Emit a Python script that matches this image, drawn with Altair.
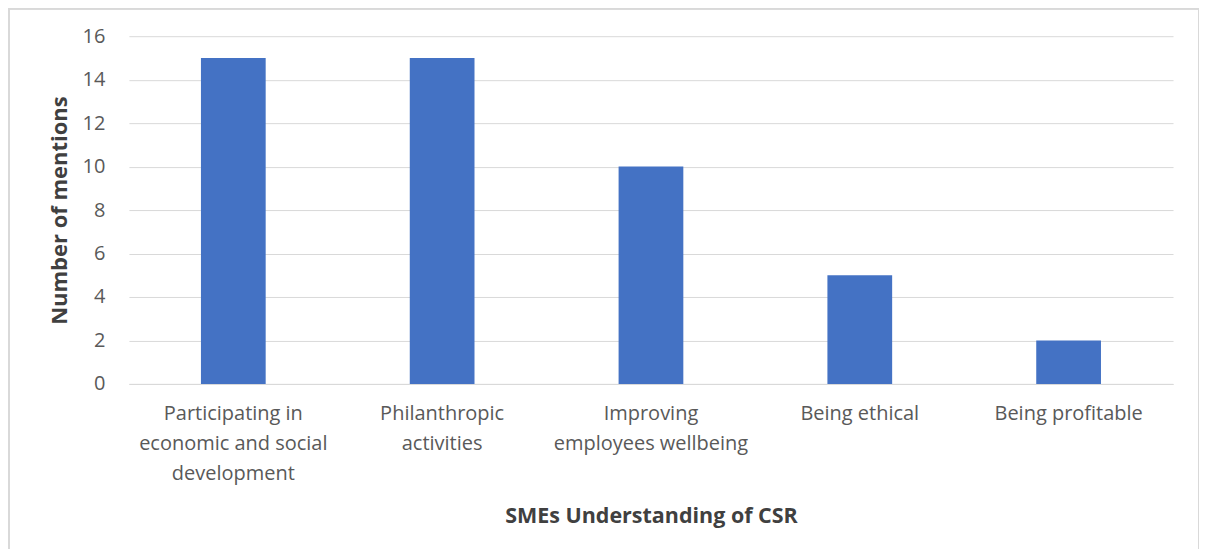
import altair as alt
import pandas as pd

categories = [
    "Participating in economic and social development",
    "Philanthropic activities",
    "Improving employees wellbeing",
    "Being ethical",
    "Being profitable",
]
label_lines = [
    ["Participating in", "economic and social", "development"],
    ["Philanthropic", "activities"],
    ["Improving", "employees wellbeing"],
    ["Being ethical"],
    ["Being profitable"],
]
mentions = [15, 15, 10, 5, 2]
y_ticks = [0, 2, 4, 6, 8, 10, 12, 14, 16]

df = pd.DataFrame({"category": categories, "mentions": mentions})

label_map = "{" + ",".join(
    "'" + c + "':[" + ",".join("'" + l + "'" for l in ls) + "]"
    for c, ls in zip(categories, label_lines)
) + "}"

FONT = "Open Sans"
W, H = 1045, 348
PAD = {"left": 121, "top": 28, "right": 26, "bottom": 165}

bars = alt.Chart(df).mark_bar(color="#4472C4").encode(
    x=alt.X(
        "category:N",
        sort=categories,
        scale=alt.Scale(paddingInner=0.69, paddingOuter=0.345),
        axis=alt.Axis(
            title="SMEs Understanding of CSR",
            labelAngle=0,
            labelExpr=label_map + "[datum.label]",
            labelFont=FONT,
            labelFontSize=20,
            labelColor="#595959",
            labelPadding=30,
            labelLineHeight=30,
            labelBaseline="middle",
            labelLimit=400,
            ticks=False,
            domainColor="#D9D9D9",
            domainWidth=1,
            titleFont=FONT,
            titleFontSize=21.5,
            titleFontWeight="bold",
            titleColor="#404040",
            titlePadding=22,
        ),
    ),
    y=alt.Y(
        "mentions:Q",
        scale=alt.Scale(domain=[0, 16], nice=False),
        axis=alt.Axis(
            title="Number of mentions",
            values=y_ticks,
            labelFont=FONT,
            labelFontSize=20,
            labelColor="#595959",
            labelPadding=24,
            ticks=False,
            domain=False,
            gridColor="#D9D9D9",
            gridWidth=1,
            titleFont=FONT,
            titleFontSize=22,
            titleFontWeight="bold",
            titleColor="#404040",
            titlePadding=11,
        ),
    ),
)

border = alt.Chart(df).mark_rect(
    fill=None, stroke="#D9D9D9", strokeWidth=1.5
).encode(
    x=alt.value(-PAD["left"] + 1),
    x2=alt.value(W + PAD["right"]),
    y=alt.value(-PAD["top"] + 0.5),
    y2=alt.value(H + PAD["bottom"] + 20),
)

chart = alt.layer(bars, border).properties(
    width=W,
    height=H,
    autosize=alt.AutoSizeParams(type="none"),
    padding=PAD,
    background="white",
).configure_view(stroke=None)

chart.save("out.html", embed_options={"renderer": "svg", "actions": False})
